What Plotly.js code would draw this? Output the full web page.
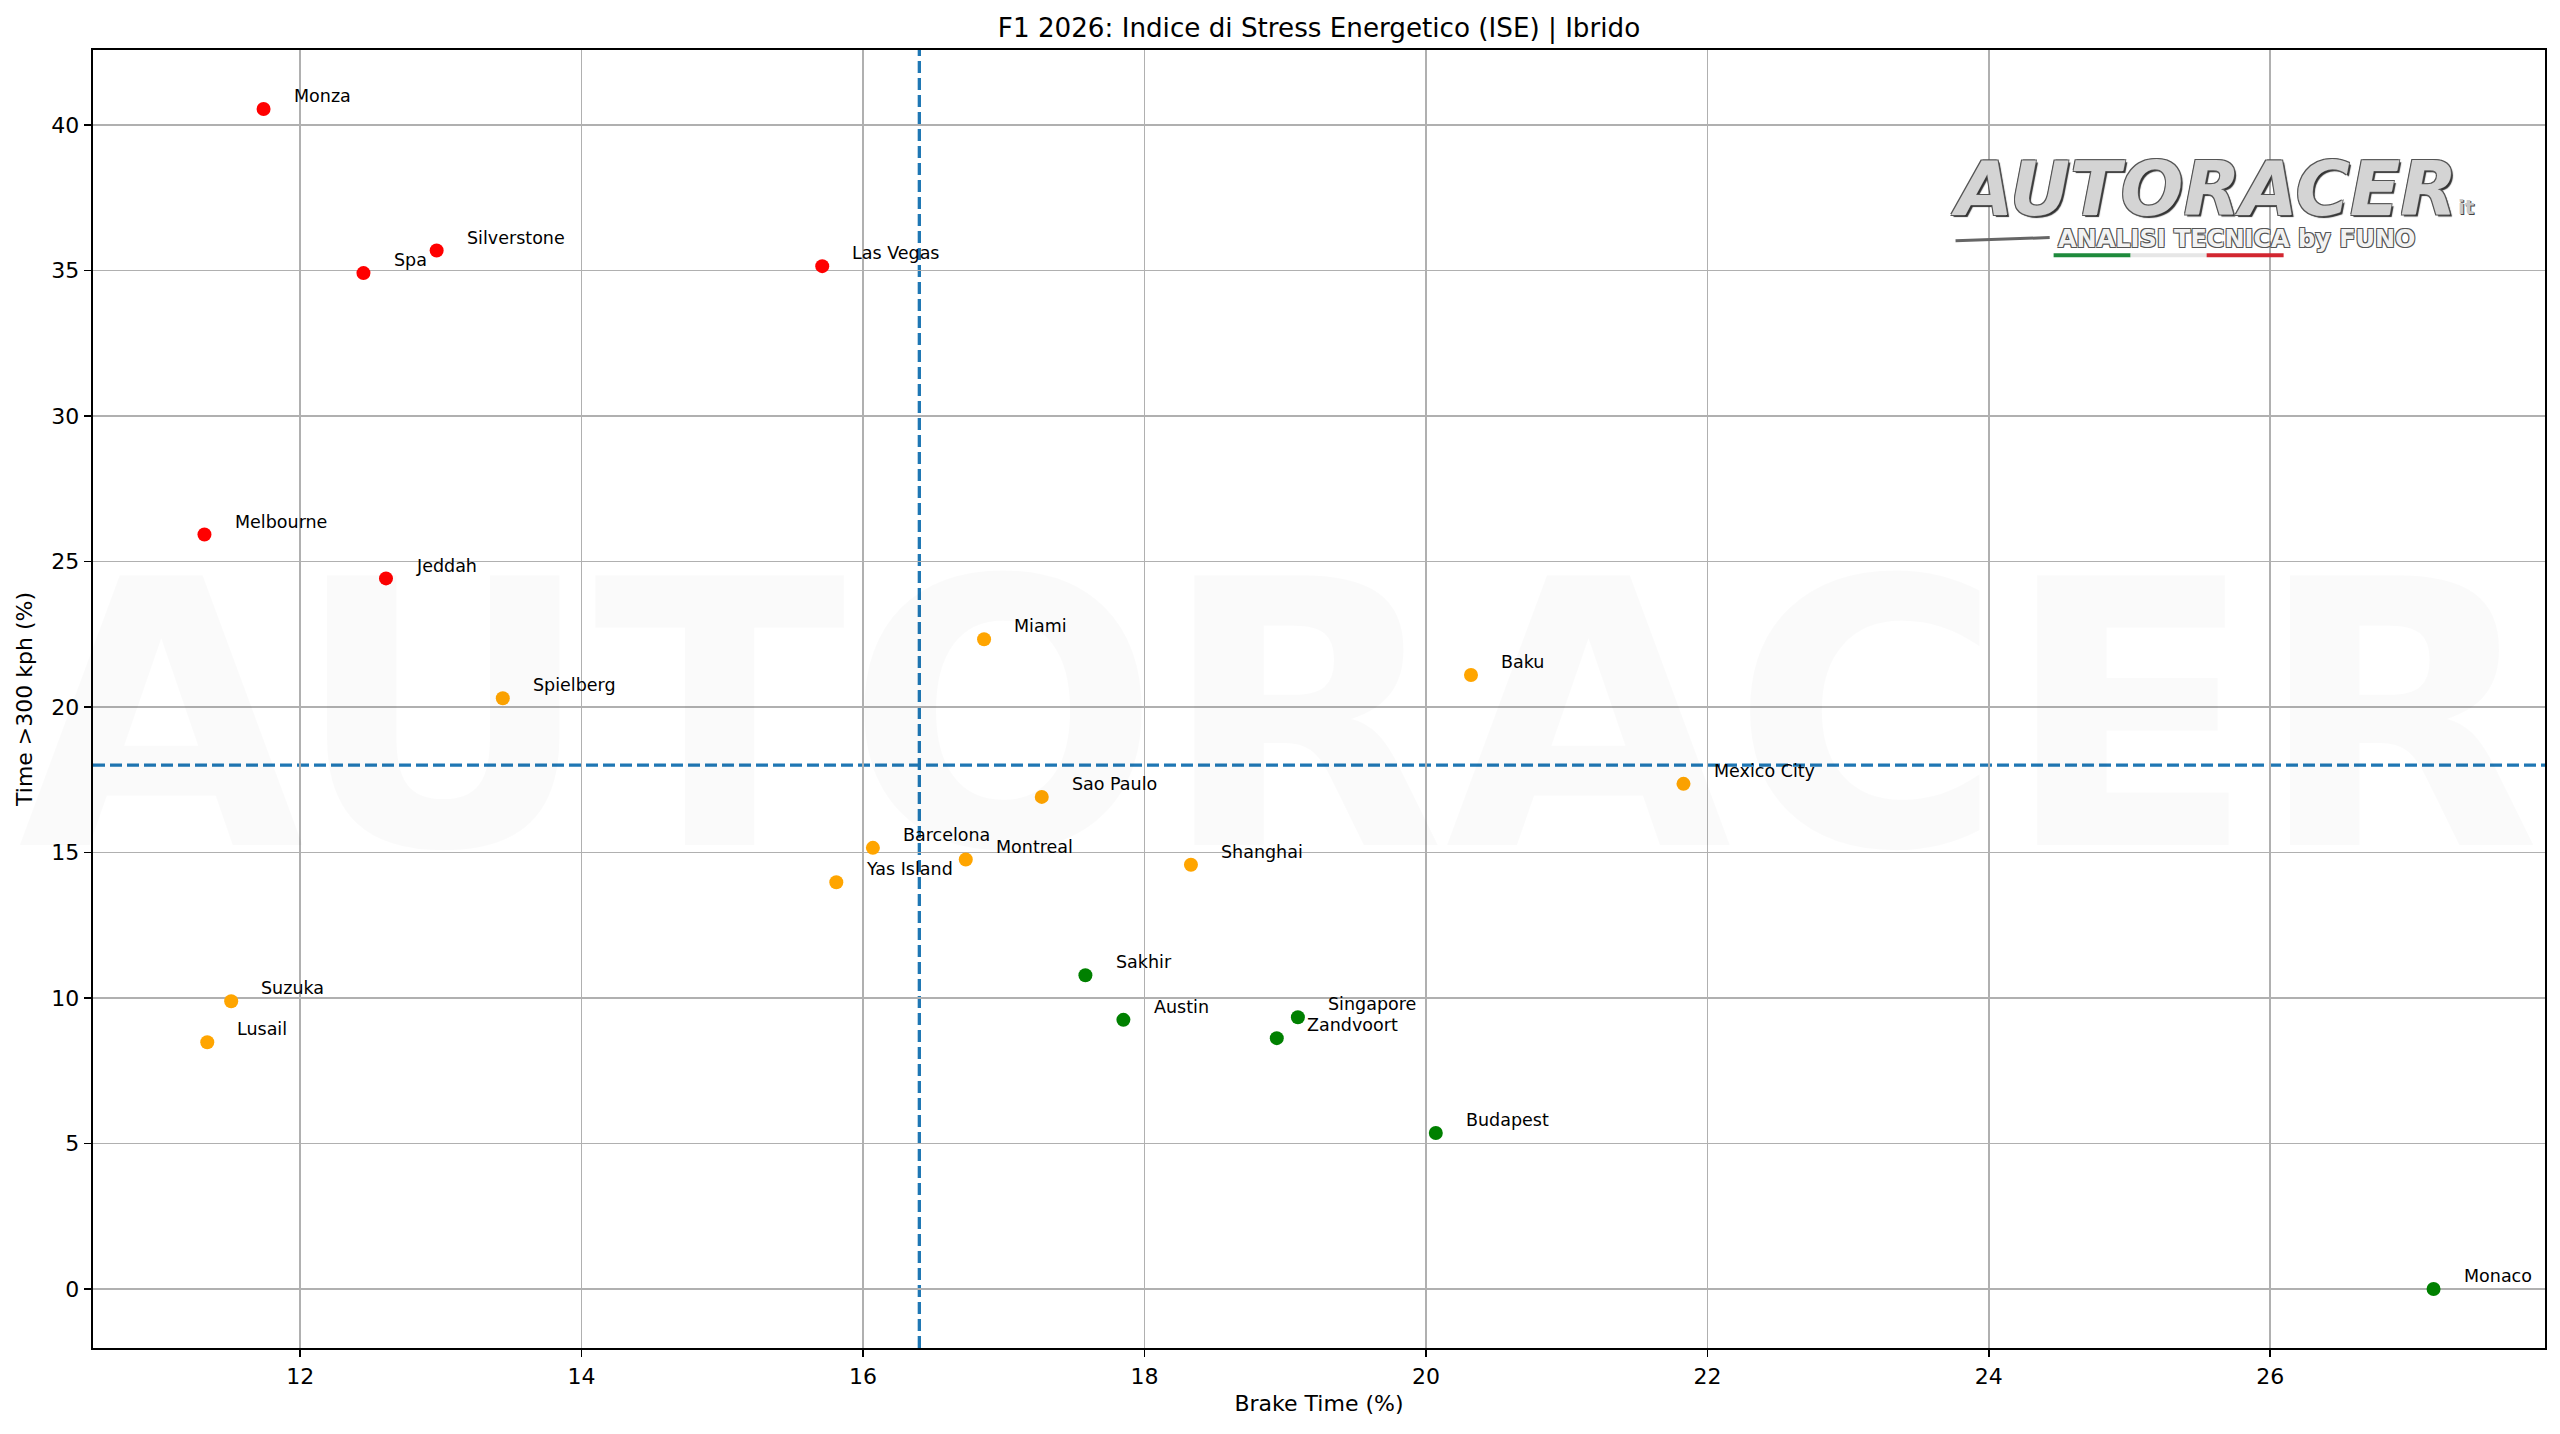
<!DOCTYPE html>
<html>
<head>
<meta charset="utf-8">
<script src="https://cdn.plot.ly/plotly-3.0.1.min.js"></script>
<style>
  html, body { margin: 0; padding: 0; background: #fff; }
  #chart { width: 2560px; height: 1434px; }
</style>
</head>
<body>
<div id="chart"></div>
<script>
// circuits in calendar order
var circuits = ['Melbourne', 'Shanghai', 'Suzuka', 'Sakhir', 'Jeddah', 'Miami', 'Montreal', 'Monaco',
  'Barcelona', 'Spielberg', 'Silverstone', 'Spa', 'Budapest', 'Zandvoort', 'Monza', 'Baku',
  'Singapore', 'Austin', 'Mexico City', 'Sao Paulo', 'Las Vegas', 'Lusail', 'Yas Island'];

// Brake Time (%)
var brakeTime = [11.32, 18.33, 11.51, 17.58, 12.61, 16.86, 16.73, 27.16,
  16.07, 13.44, 12.97, 12.45, 20.07, 18.94, 11.74, 20.32,
  19.09, 17.85, 21.83, 17.27, 15.71, 11.34, 15.81];

// Time >300 kph (%)
var timeOver300 = [25.93, 14.58, 9.89, 10.78, 24.42, 22.33, 14.76, 0.00,
  15.16, 20.30, 35.69, 34.91, 5.36, 8.62, 40.55, 21.10,
  9.34, 9.25, 17.36, 16.91, 35.15, 8.48, 13.98];

// stress level per circuit
var stressLevel = ['alto', 'medio', 'medio', 'basso', 'alto', 'medio', 'medio', 'basso',
  'medio', 'medio', 'alto', 'alto', 'basso', 'basso', 'alto', 'medio',
  'basso', 'basso', 'medio', 'medio', 'alto', 'medio', 'medio'];

var levelColors = { alto: 'red', medio: 'orange', basso: 'green' };

// reference lines
var brakeThreshold = 16.4;
var speedThreshold = 18;

var FONT = 'DejaVu Sans, Verdana, sans-serif';

// one trace per level
var data = ['alto', 'medio', 'basso'].map(function (lvl) {
  var xs = [], ys = [];
  for (var i = 0; i < circuits.length; i++) {
    if (stressLevel[i] === lvl) { xs.push(brakeTime[i]); ys.push(timeOver300[i]); }
  }
  return {
    type: 'scatter',
    mode: 'markers',
    x: xs,
    y: ys,
    name: lvl,
    hoverinfo: 'skip',
    marker: { color: levelColors[lvl], size: 14, line: { width: 0 } }
  };
});

// axis ranges like matplotlib's 5% margins
function padRange(arr) {
  var lo = Math.min.apply(null, arr), hi = Math.max.apply(null, arr);
  var p = (hi - lo) * 0.05;
  return [lo - p, hi + p];
}

// faint background watermark
var annotations = [{
  xref: 'paper', yref: 'paper',
  x: 0.484, y: 0.486,
  text: 'AUTORACER',
  showarrow: false,
  xanchor: 'center', yanchor: 'middle',
  font: { family: FONT, size: 370, weight: 'bold', color: 'rgba(0,0,0,0.018)' }
}];

// labels next to each point
circuits.forEach(function (name, i) {
  annotations.push({
    x: brakeTime[i] + 0.2,
    y: timeOver300[i] + 0.2,
    xref: 'x', yref: 'y',
    text: name,
    showarrow: false,
    xanchor: 'left',
    yanchor: 'bottom',
    yshift: -5,
    font: { family: FONT, size: 17.5, color: '#000' }
  });
});

// logo top right
annotations.push({
  xref: 'paper', yref: 'paper',
  x: 0.757, y: 0.893,
  text: 'AUTORACER',
  showarrow: false,
  xanchor: 'left', yanchor: 'middle',
  font: {
    family: FONT, size: 74, weight: 'bold', style: 'italic', color: '#d4d4d4',
    shadow: '-1px -1px 0 #555, 1px -1px 0 #555, -1px 1px 0 #555, 2px 2px 1px #333'
  }
});
annotations.push({
  xref: 'paper', yref: 'paper',
  x: 0.9635, y: 0.879,
  text: 'it',
  showarrow: false,
  xanchor: 'left', yanchor: 'middle',
  font: { family: FONT, size: 20, weight: 'bold', color: '#c8c8c8', shadow: '1px 1px 0 #444' }
});
annotations.push({
  xref: 'paper', yref: 'paper',
  x: 0.8005, y: 0.8545,
  text: 'ANALISI TECNICA by FUNO',
  showarrow: false,
  xanchor: 'left', yanchor: 'middle',
  font: {
    family: FONT, size: 24, weight: 'bold', color: '#f2f2f2',
    shadow: '-1px -1px 0 #555, 1px -1px 0 #555, -1px 1px 0 #555, 1px 1px 0 #555'
  }
});

var shapes = [
  {
    type: 'line', xref: 'x', yref: 'paper',
    x0: brakeThreshold, x1: brakeThreshold, y0: 0, y1: 1,
    layer: 'between',
    line: { color: '#1f77b4', width: 3.3, dash: '12px,5px' }
  },
  {
    type: 'line', xref: 'paper', yref: 'y',
    x0: 0, x1: 1, y0: speedThreshold, y1: speedThreshold,
    layer: 'between',
    line: { color: '#1f77b4', width: 3.3, dash: '12px,5px' }
  },
  // logo decorations
  { type: 'line', xref: 'paper', yref: 'paper', x0: 0.7596, x1: 0.798, y0: 0.8530, y1: 0.8555, layer: 'above', line: { color: '#666', width: 3 } },
  { type: 'line', xref: 'paper', yref: 'paper', x0: 0.7996, x1: 0.831, y0: 0.8418, y1: 0.8418, layer: 'above', line: { color: '#1e8a3c', width: 4 } },
  { type: 'line', xref: 'paper', yref: 'paper', x0: 0.831, x1: 0.862, y0: 0.8418, y1: 0.8418, layer: 'above', line: { color: '#e6e6e6', width: 4 } },
  { type: 'line', xref: 'paper', yref: 'paper', x0: 0.862, x1: 0.8934, y0: 0.8418, y1: 0.8418, layer: 'above', line: { color: '#d22630', width: 4 } }
];

var axisStyle = {
  showgrid: true,
  gridcolor: '#b0b0b0',
  gridwidth: 1.75,
  zeroline: false,
  showline: true,
  mirror: true,
  linecolor: '#000',
  linewidth: 1.75,
  ticks: 'outside',
  ticklen: 7.6,
  tickwidth: 1.75,
  tickcolor: '#000',
  tickfont: { family: FONT, size: 22, color: '#000' }
};

var layout = {
  width: 2560,
  height: 1434,
  margin: { l: 93, r: 15, t: 50, b: 86 },
  paper_bgcolor: '#fff',
  plot_bgcolor: '#fff',
  showlegend: false,
  title: {
    text: 'F1 2026: Indice di Stress Energetico (ISE) | Ibrido',
    x: 0.5, xref: 'paper', xanchor: 'center',
    y: 0.9805, yref: 'container', yanchor: 'middle',
    font: { family: FONT, size: 26.2, color: '#000' }
  },
  xaxis: Object.assign({}, axisStyle, {
    range: padRange(brakeTime),
    tickmode: 'linear', tick0: 0, dtick: 2,
    title: { text: 'Brake Time (%)', standoff: 8, font: { family: FONT, size: 22, color: '#000' } }
  }),
  yaxis: Object.assign({}, axisStyle, {
    range: padRange(timeOver300),
    tickmode: 'linear', tick0: 0, dtick: 5,
    title: { text: 'Time >300 kph (%)', standoff: 12, font: { family: FONT, size: 22, color: '#000' } }
  }),
  shapes: shapes,
  annotations: annotations
};

Plotly.newPlot('chart', data, layout, { displayModeBar: false, staticPlot: true });
</script>
</body>
</html>
